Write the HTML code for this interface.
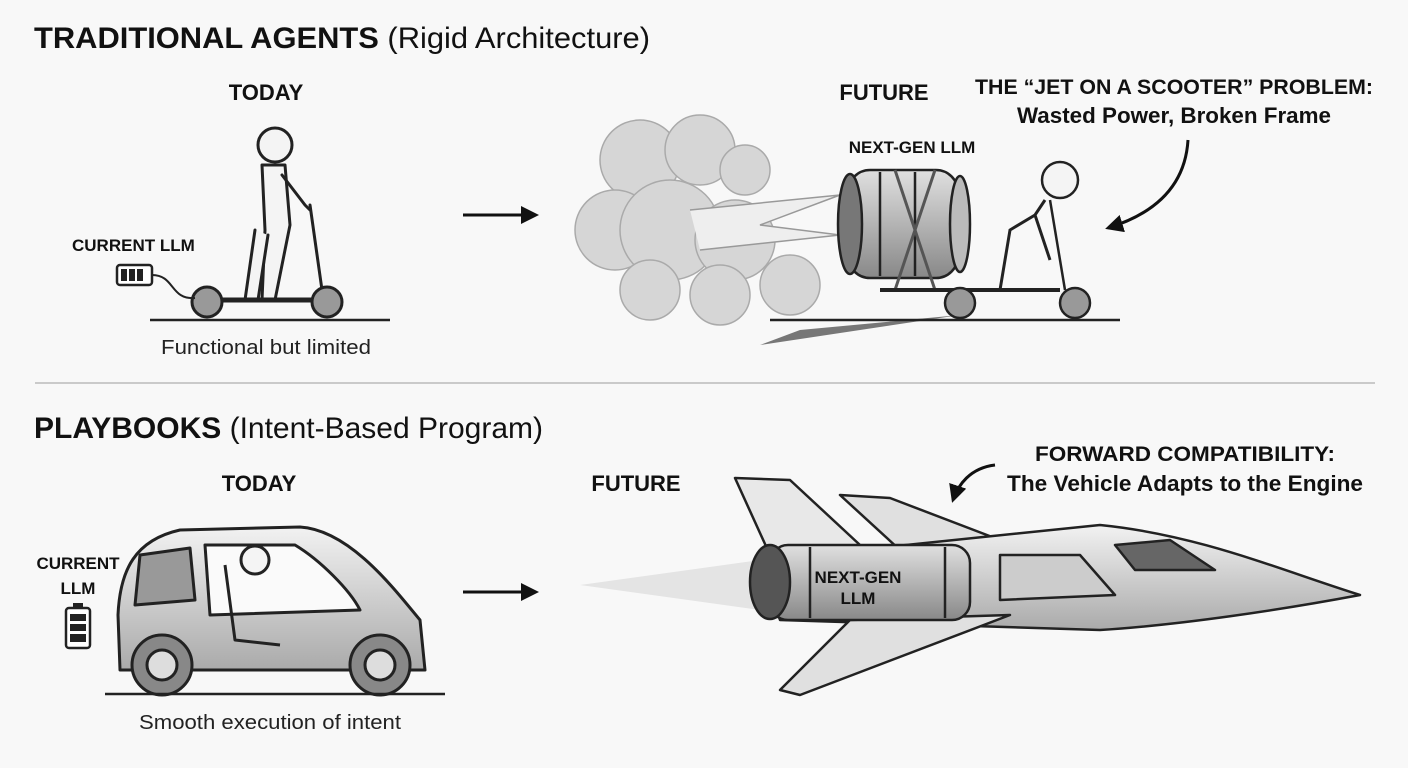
<!DOCTYPE html>
<html><head><meta charset="utf-8"><style>
html,body{margin:0;padding:0;background:#f8f8f8;}
svg{display:block;font-family:"Liberation Sans",sans-serif;}
.b{font-weight:bold;fill:#111;}
</style></head><body>
<svg width="1408" height="768" viewBox="0 0 1408 768" xmlns="http://www.w3.org/2000/svg">
<defs>
<marker id="ah" markerWidth="6" markerHeight="6" refX="5" refY="3" orient="auto"><path d="M0,0 L6,3 L0,6 z" fill="#111"/></marker>
<linearGradient id="g1" x1="0" y1="0" x2="0" y2="1"><stop offset="0" stop-color="#e0e0e0"/><stop offset="1" stop-color="#888"/></linearGradient>
<linearGradient id="g2" x1="0" y1="0" x2="0" y2="1"><stop offset="0" stop-color="#f2f2f2"/><stop offset="1" stop-color="#aaa"/></linearGradient>
</defs>
<rect width="1408" height="768" fill="#f8f8f8"/>
<text x="34" y="48" font-size="30" class="b" textLength="616" lengthAdjust="spacingAndGlyphs">TRADITIONAL AGENTS <tspan font-weight="normal">(Rigid Architecture)</tspan></text>
<text x="266" y="100" font-size="22" class="b" text-anchor="middle">TODAY</text>
<!-- scooter figure -->
<g stroke="#222" stroke-width="3" fill="#f4f4f4" stroke-linejoin="round" stroke-linecap="round">
<circle cx="275" cy="145" r="17"/>
<path d="M262 165 L285 165 L290 225 L275 300 L262 300 L265 230 Z"/>
<path d="M255 230 L245 300 L258 300 L268 235"/>
<path d="M282 175 L305 205 L310 210"/>
<path d="M310 205 L322 290" fill="none"/>
<path d="M205 300 L322 300" fill="none" stroke-width="5"/>
<circle cx="207" cy="302" r="15" fill="#999"/>
<circle cx="327" cy="302" r="15" fill="#999"/>
</g>
<text x="72" y="251" font-size="17" class="b">CURRENT LLM</text>
<rect x="117" y="265" width="35" height="20" rx="3" fill="#fff" stroke="#222" stroke-width="2.5"/>
<rect x="121" y="269" width="6" height="12" fill="#222"/><rect x="129" y="269" width="6" height="12" fill="#222"/><rect x="137" y="269" width="6" height="12" fill="#222"/>
<path d="M152 275 C175 275 170 300 195 298" fill="none" stroke="#222" stroke-width="2"/>
<line x1="150" y1="320" x2="390" y2="320" stroke="#222" stroke-width="2.5"/>
<text x="266" y="354" font-size="20" text-anchor="middle" fill="#222" textLength="210" lengthAdjust="spacingAndGlyphs">Functional but limited</text>
<line x1="463" y1="215" x2="536" y2="215" stroke="#111" stroke-width="3" marker-end="url(#ah)"/>
<!-- smoke -->
<g fill="#d6d6d6" stroke="#aaa" stroke-width="1.5">
<circle cx="640" cy="160" r="40"/><circle cx="700" cy="150" r="35"/><circle cx="745" cy="170" r="25"/>
<circle cx="615" cy="230" r="40"/><circle cx="670" cy="230" r="50"/><circle cx="735" cy="240" r="40"/>
<circle cx="650" cy="290" r="30"/><circle cx="720" cy="295" r="30"/><circle cx="790" cy="285" r="30"/>
</g>
<path d="M690 210 L840 195 L760 225 L840 235 L700 250" fill="#eee" stroke="#999" stroke-width="1.5"/>
<path d="M760 345 L960 315 L800 330 Z" fill="#777"/>
<line x1="770" y1="320" x2="1120" y2="320" stroke="#222" stroke-width="2.5"/>
<text x="884" y="100" font-size="22" class="b" text-anchor="middle">FUTURE</text>
<text x="912" y="153" font-size="17" class="b" text-anchor="middle">NEXT-GEN LLM</text>
<!-- barrel -->
<g stroke="#222" stroke-width="2.5">
<rect x="848" y="170" width="110" height="108" rx="22" fill="url(#g1)"/>
<ellipse cx="850" cy="224" rx="12" ry="50" fill="#777"/>
<ellipse cx="960" cy="224" rx="10" ry="48" fill="#bbb"/>
<path d="M880 172 L880 276 M915 172 L915 276" fill="none"/>
<path d="M895 170 L935 290 M935 170 L895 290" fill="none" stroke="#555" stroke-width="3"/>
<path d="M880 290 L1060 290" fill="none" stroke-width="4"/>
<circle cx="960" cy="303" r="15" fill="#999"/><circle cx="1075" cy="303" r="15" fill="#999"/>
<path d="M1050 200 L1065 290" fill="none"/>
<circle cx="1060" cy="180" r="18" fill="#f4f4f4"/>
<path d="M1045 200 L1035 215 L1010 230 L1000 290 M1035 215 L1050 260" fill="none" stroke-width="3"/>
</g>
<text x="1174" y="94" font-size="21" class="b" text-anchor="middle" textLength="398" lengthAdjust="spacingAndGlyphs">THE “JET ON A SCOOTER” PROBLEM:</text>
<text x="1174" y="123" font-size="22" class="b" text-anchor="middle" textLength="314" lengthAdjust="spacingAndGlyphs">Wasted Power, Broken Frame</text>
<path d="M1188 140 C1185 190 1150 215 1108 228" fill="none" stroke="#111" stroke-width="3" marker-end="url(#ah)"/>
<line x1="35" y1="383" x2="1375" y2="383" stroke="#bbb" stroke-width="1.5"/>
<text x="34" y="438" font-size="30" class="b" textLength="509" lengthAdjust="spacingAndGlyphs">PLAYBOOKS <tspan font-weight="normal">(Intent-Based Program)</tspan></text>
<text x="259" y="491" font-size="22" class="b" text-anchor="middle">TODAY</text>
<text x="78" y="569" font-size="17" class="b" text-anchor="middle">CURRENT</text>
<text x="78" y="594" font-size="17" class="b" text-anchor="middle">LLM</text>
<rect x="66" y="608" width="24" height="40" rx="3" fill="#fff" stroke="#222" stroke-width="2.5"/>
<rect x="73" y="603" width="10" height="5" fill="#222"/>
<rect x="70" y="614" width="16" height="7" fill="#222"/><rect x="70" y="624" width="16" height="7" fill="#222"/><rect x="70" y="634" width="16" height="8" fill="#222"/>
<!-- car -->
<g stroke="#222" stroke-width="3" stroke-linejoin="round">
<path d="M120 670 L118 615 C120 570 135 540 180 530 L300 527 C350 530 395 590 420 620 L425 670 Z" fill="url(#g2)"/>
<path d="M205 545 L295 545 C320 560 350 590 360 610 L210 615 Z" fill="#fafafa"/>
<path d="M140 555 L190 548 L195 600 L135 605 Z" fill="#999"/>
<circle cx="255" cy="560" r="14" fill="#f4f4f4"/>
<path d="M225 565 L235 640 L280 645" fill="none"/>
<circle cx="162" cy="665" r="30" fill="#888"/><circle cx="162" cy="665" r="15" fill="#ddd"/>
<circle cx="380" cy="665" r="30" fill="#888"/><circle cx="380" cy="665" r="15" fill="#ddd"/>
</g>
<line x1="105" y1="694" x2="445" y2="694" stroke="#222" stroke-width="2.5"/>
<text x="270" y="729" font-size="20" text-anchor="middle" fill="#222" textLength="262" lengthAdjust="spacingAndGlyphs">Smooth execution of intent</text>
<line x1="463" y1="592" x2="536" y2="592" stroke="#111" stroke-width="3" marker-end="url(#ah)"/>
<text x="636" y="491" font-size="22" class="b" text-anchor="middle">FUTURE</text>
<!-- jet -->
<path d="M580 585 L760 560 L760 610 Z" fill="#e4e4e4"/>
<g stroke="#222" stroke-width="2.5" stroke-linejoin="round">
<path d="M735 478 L790 480 L860 545 L770 555 Z" fill="#e8e8e8"/>
<path d="M840 495 L890 498 L1000 540 L900 550 Z" fill="#e0e0e0"/>
<path d="M760 560 L1100 525 C1200 535 1280 570 1360 595 C1280 610 1180 625 1100 630 L780 620 Z" fill="url(#g2)"/>
<path d="M1115 545 L1170 540 L1215 570 L1135 570 Z" fill="#666"/>
<path d="M1000 555 L1080 555 L1115 595 L1000 600 Z" fill="#ccc"/>
<path d="M850 620 L1010 615 L800 695 L780 690 Z" fill="#e0e0e0"/>
<rect x="770" y="545" width="200" height="75" rx="18" fill="url(#g1)"/>
<ellipse cx="770" cy="582" rx="20" ry="37" fill="#555"/>
<path d="M810 547 L810 618 M945 547 L945 618" fill="none"/>
</g>
<text x="858" y="583" font-size="17" class="b" text-anchor="middle">NEXT-GEN</text>
<text x="858" y="604" font-size="17" class="b" text-anchor="middle">LLM</text>
<text x="1185" y="461" font-size="21" class="b" text-anchor="middle" textLength="300" lengthAdjust="spacingAndGlyphs">FORWARD COMPATIBILITY:</text>
<text x="1185" y="491" font-size="22" class="b" text-anchor="middle" textLength="356" lengthAdjust="spacingAndGlyphs">The Vehicle Adapts to the Engine</text>
<path d="M995 465 C970 468 958 485 953 500" fill="none" stroke="#111" stroke-width="3" marker-end="url(#ah)"/>
</svg>
</body></html>
